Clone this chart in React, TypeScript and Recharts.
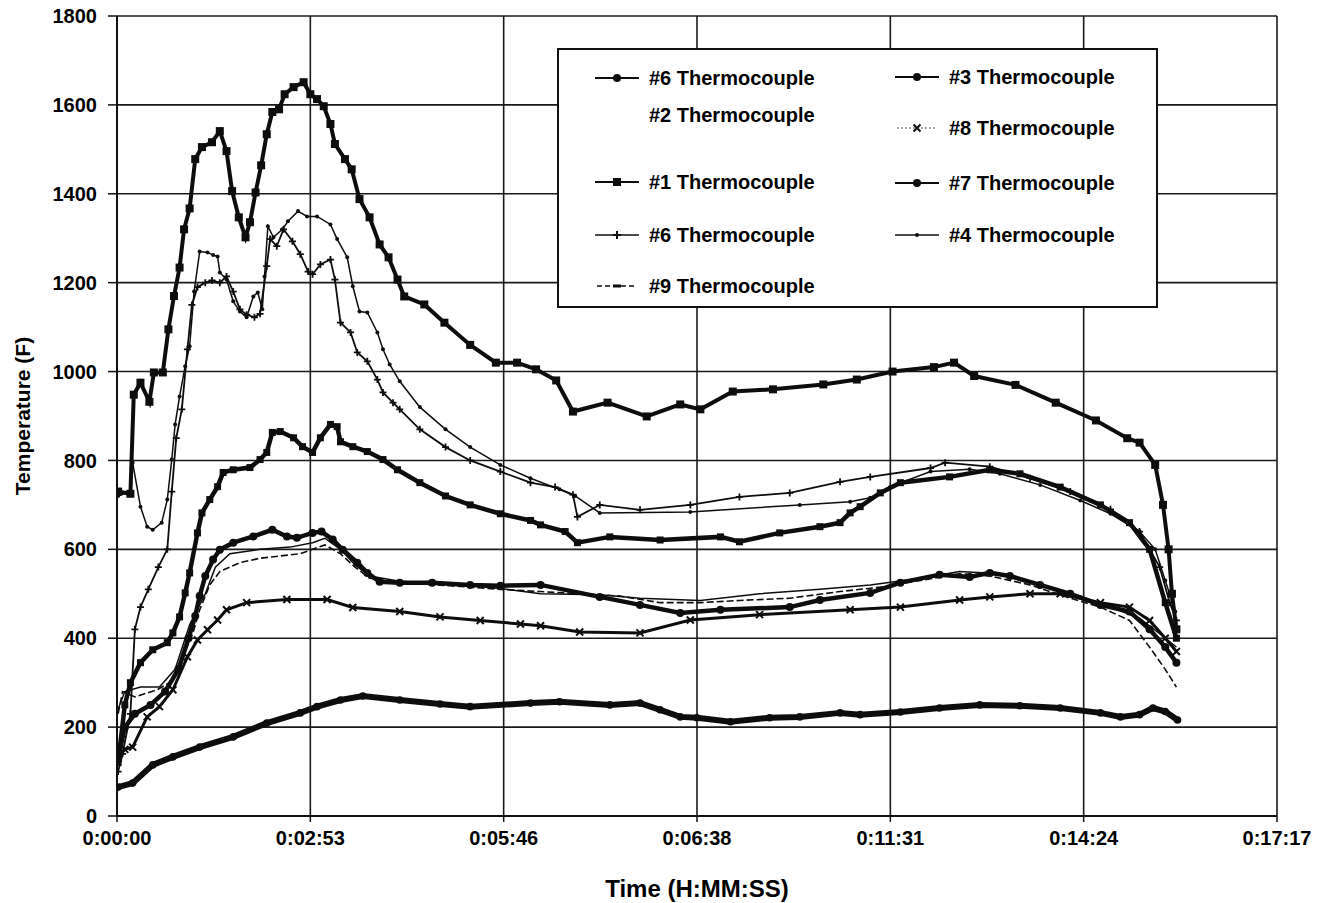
import React from 'react';
import { LineChart, Line, XAxis, YAxis, CartesianGrid, Label } from 'recharts';

const FONT = '"Liberation Sans", Arial, Helvetica, sans-serif';

// x axis: one grid step = 173 s
const xTickSec = [0, 173, 346, 519, 692, 865, 1038];
const xTickLabels = ['0:00:00', '0:02:53', '0:05:46', '0:06:38', '0:11:31', '0:14:24', '0:17:17'];
const yTicks = [0, 200, 400, 600, 800, 1000, 1200, 1400, 1600, 1800];

// #1 - top curve (squares)
const tc1Sec = [1, 12, 15, 21, 29, 33, 41, 46, 51, 56, 60, 65, 70, 76, 85, 92, 98, 103, 109, 115, 119, 124, 129, 134, 139, 145, 150, 158, 167, 173, 179, 185, 191, 195, 204, 210, 217, 226, 235, 243, 251, 257, 275, 293, 316, 339, 358, 375, 393, 408, 439, 474, 504, 522, 551, 587, 632, 662, 694, 731, 749, 767, 804, 840, 876, 904, 915, 929, 936, 941, 944, 948];
const tc1Temp = [730, 725, 948, 975, 932, 998, 998, 1095, 1170, 1234, 1320, 1367, 1478, 1505, 1516, 1541, 1496, 1406, 1347, 1302, 1336, 1403, 1464, 1534, 1584, 1590, 1624, 1640, 1651, 1624, 1613, 1597, 1557, 1512, 1478, 1455, 1388, 1347, 1286, 1257, 1207, 1169, 1151, 1110, 1060, 1020, 1020, 1005, 980, 910, 930, 899, 926, 915, 955, 960, 971, 982, 1000, 1010, 1020, 990, 970, 930, 890, 850, 840, 790, 700, 600, 500, 420];

// #4 - thin, 1270 / 1360 peaks
const tc4Sec = [1, 12, 14, 21, 27, 32, 40, 45, 49, 52, 56, 61, 65, 69, 74, 81, 86, 90, 92, 98, 104, 110, 116, 122, 126, 130, 132, 135, 140, 148, 153, 162, 170, 179, 191, 197, 206, 211, 217, 224, 233, 238, 244, 253, 271, 294, 316, 343, 370, 396, 410, 432, 513, 611, 656, 674, 692, 728, 763, 790, 826, 862, 889, 915, 929, 938, 947];
const tc4Temp = [720, 730, 795, 696, 651, 644, 660, 712, 802, 881, 944, 1012, 1057, 1180, 1270, 1268, 1262, 1259, 1223, 1207, 1158, 1135, 1122, 1169, 1178, 1140, 1214, 1327, 1302, 1320, 1338, 1361, 1349, 1349, 1331, 1298, 1257, 1192, 1135, 1133, 1088, 1050, 1016, 978, 920, 870, 830, 790, 760, 735, 720, 682, 684, 700, 707, 716, 741, 775, 780, 770, 745, 710, 680, 640, 600, 530, 460];

// #6 - plus markers
const tc6pSec = [1, 5, 12, 16, 21, 28, 37, 45, 49, 53, 58, 63, 67, 72, 79, 85, 92, 98, 104, 110, 116, 123, 128, 134, 137, 143, 149, 157, 164, 171, 175, 182, 191, 195, 200, 209, 215, 224, 233, 238, 247, 253, 271, 294, 316, 343, 370, 392, 408, 412, 432, 468, 513, 557, 602, 647, 674, 728, 741, 781, 817, 853, 889, 915, 933, 942, 948];
const tc6pTemp = [100, 140, 230, 420, 470, 510, 560, 600, 730, 850, 915, 1050, 1150, 1190, 1200, 1205, 1200, 1214, 1180, 1140, 1128, 1122, 1130, 1237, 1298, 1282, 1320, 1293, 1264, 1225, 1219, 1241, 1252, 1207, 1110, 1088, 1043, 1023, 982, 953, 930, 915, 870, 830, 800, 775, 750, 740, 723, 673, 700, 689, 700, 718, 727, 752, 763, 783, 795, 786, 760, 730, 690, 640, 560, 480, 440];

// #3 - 870 peak
const tc3Sec = [1, 7, 12, 21, 32, 45, 50, 56, 61, 65, 72, 76, 83, 90, 95, 104, 119, 128, 134, 139, 146, 158, 166, 175, 182, 191, 197, 200, 211, 224, 238, 251, 271, 294, 316, 343, 370, 379, 401, 412, 441, 486, 540, 557, 593, 629, 647, 656, 665, 683, 701, 745, 781, 808, 844, 880, 906, 924, 938, 948];
const tc3Temp = [120, 250, 300, 345, 374, 390, 412, 448, 502, 547, 637, 682, 712, 741, 773, 779, 784, 802, 818, 863, 865, 851, 831, 818, 851, 881, 876, 842, 831, 820, 802, 779, 750, 720, 700, 680, 665, 655, 640, 615, 628, 621, 628, 617, 637, 651, 660, 682, 696, 727, 750, 763, 779, 770, 740, 700, 660, 600, 480, 400];

// #7 - 640 peak
const tc7Sec = [1, 7, 16, 30, 43, 55, 64, 70, 74, 79, 86, 92, 104, 122, 139, 152, 161, 175, 183, 193, 202, 215, 224, 235, 253, 282, 316, 343, 379, 432, 468, 504, 540, 602, 629, 674, 701, 736, 763, 781, 799, 826, 853, 880, 906, 924, 938, 948];
const tc7Temp = [130, 200, 230, 250, 280, 330, 400, 450, 495, 540, 577, 599, 615, 629, 644, 629, 626, 637, 640, 622, 599, 570, 547, 527, 525, 525, 520, 518, 520, 493, 475, 457, 464, 470, 486, 502, 525, 543, 538, 547, 540, 520, 500, 475, 460, 420, 380, 345];

// #8 - crosses, ~490
const tc8Sec = [1, 7, 14, 27, 38, 50, 63, 72, 81, 90, 98, 116, 152, 188, 211, 253, 289, 325, 361, 379, 414, 468, 513, 575, 656, 701, 754, 781, 817, 844, 880, 906, 924, 938, 948];
const tc8Temp = [130, 150, 155, 223, 246, 284, 358, 396, 419, 441, 464, 480, 487, 487, 469, 460, 448, 440, 432, 428, 414, 412, 441, 453, 464, 470, 486, 493, 500, 500, 480, 470, 440, 400, 370];

// #9 - dashed, ~600
const tc9Sec = [1, 5, 16, 36, 47, 59, 68, 74, 83, 92, 110, 128, 146, 164, 175, 186, 200, 213, 226, 253, 298, 343, 379, 414, 450, 486, 522, 557, 602, 647, 683, 719, 754, 781, 817, 853, 880, 906, 924, 938, 948];
const tc9Temp = [230, 280, 268, 284, 300, 358, 412, 464, 520, 550, 570, 580, 585, 590, 600, 610, 590, 560, 535, 525, 518, 510, 505, 500, 495, 480, 480, 485, 490, 505, 515, 530, 545, 540, 520, 490, 470, 440, 380, 330, 290];

// #2 - thin, ~610
const tc2Sec = [1, 7, 21, 38, 52, 65, 79, 88, 101, 128, 155, 175, 186, 200, 213, 226, 253, 298, 343, 379, 432, 468, 522, 575, 629, 674, 719, 754, 790, 826, 862, 889, 915, 933, 948];
const tc2Temp = [240, 280, 290, 290, 330, 430, 500, 560, 590, 600, 605, 615, 625, 600, 565, 540, 528, 522, 512, 500, 498, 490, 485, 500, 510, 520, 535, 550, 545, 520, 495, 470, 445, 410, 380];

// #6 - bottom curve (dots)
const tc6dSec = [1, 14, 32, 50, 74, 104, 134, 164, 179, 200, 220, 253, 289, 316, 370, 396, 441, 468, 486, 504, 519, 549, 584, 611, 647, 665, 701, 736, 772, 808, 844, 880, 898, 915, 927, 938, 949];
const tc6dTemp = [65, 74, 115, 133, 155, 178, 209, 232, 246, 261, 270, 261, 252, 246, 254, 257, 250, 254, 239, 223, 221, 212, 221, 223, 232, 228, 234, 243, 250, 248, 243, 232, 223, 228, 243, 235, 216];

const legendLeft = [
  { label: '#6 Thermocouple', kind: 'dot' },
  { label: '#2 Thermocouple', kind: 'none' },
  { label: '#1 Thermocouple', kind: 'square' },
  { label: '#6 Thermocouple', kind: 'plus' },
  { label: '#9 Thermocouple', kind: 'dash' },
];
const legendRight = [
  { label: '#3 Thermocouple', kind: 'dot' },
  { label: '#8 Thermocouple', kind: 'cross' },
  { label: '#7 Thermocouple', kind: 'dot' },
  { label: '#4 Thermocouple', kind: 'smalldot' },
];

const toRows = (sec: number[], temp: number[]) => sec.map((s, i) => ({ sec: s, temp: temp[i] }));

const INK = '#0d0d0d';

const squareDot = (size: number) => (props: any) => {
  const { cx, cy, index } = props;
  if (cx == null || cy == null) return <g key={index} />;
  return <rect key={index} x={cx - size / 2} y={cy - size / 2} width={size} height={size} fill={INK} />;
};
const roundDot = (r: number) => (props: any) => {
  const { cx, cy, index } = props;
  if (cx == null || cy == null) return <g key={index} />;
  return <circle key={index} cx={cx} cy={cy} r={r} fill={INK} />;
};
const plusDot = (props: any) => {
  const { cx, cy, index } = props;
  if (cx == null || cy == null) return <g key={index} />;
  return <path key={index} d={`M${cx - 3.5},${cy}h7M${cx},${cy - 3.5}v7`} stroke={INK} strokeWidth={1.8} />;
};
const crossDot = (props: any) => {
  const { cx, cy, index } = props;
  if (cx == null || cy == null) return <g key={index} />;
  return <path key={index} d={`M${cx - 3.5},${cy - 3.5}l7,7M${cx + 3.5},${cy - 3.5}l-7,7`} stroke={INK} strokeWidth={2} />;
};

const XTitle = (props: any) => {
  const vb = props.viewBox;
  return (
    <text x={vb.x + vb.width / 2} y={vb.y + 72} textAnchor="middle" dominantBaseline="central"
      style={{ fontSize: 24, fontWeight: 700, fontFamily: FONT, fill: '#000' }}>
      Time (H:MM:SS)
    </text>
  );
};

const YTitle = (props: any) => {
  const vb = props.viewBox;
  const cx = vb.x + 22;
  const cy = vb.y + vb.height / 2;
  return (
    <text x={cx} y={cy} transform={`rotate(-90 ${cx} ${cy})`} textAnchor="middle" dominantBaseline="central"
      style={{ fontSize: 21, fontWeight: 700, fontFamily: FONT, fill: '#000' }}>
      Temperature (F)
    </text>
  );
};

const Swatch = ({ kind }: { kind: string }) => {
  if (kind === 'none') return <svg width={44} height={16} />;
  const m = 22;
  return (
    <svg width={44} height={16} style={{ display: 'block' }}>
      {kind === 'dash' && <line x1={2} x2={42} y1={8} y2={8} stroke={INK} strokeWidth={1.5} strokeDasharray="5 3" />}
      {kind === 'cross' && <line x1={2} x2={42} y1={8} y2={8} stroke="#555" strokeWidth={1} strokeDasharray="2 2" />}
      {kind !== 'dash' && kind !== 'cross' && (
        <line x1={0} x2={44} y1={8} y2={8} stroke={INK} strokeWidth={kind === 'smalldot' || kind === 'plus' ? 1.5 : 2} />
      )}
      {kind === 'dot' && <circle cx={m} cy={8} r={4} fill={INK} />}
      {kind === 'square' && <rect x={m - 4} y={4} width={8} height={8} fill={INK} />}
      {kind === 'plus' && <path d={`M${m - 4},8h8M${m},4v8`} stroke={INK} strokeWidth={2} />}
      {kind === 'smalldot' && <circle cx={m} cy={8} r={2} fill={INK} />}
      {kind === 'dash' && <rect x={m - 4} y={6.5} width={8} height={3} fill={INK} />}
      {kind === 'cross' && <path d={`M${m - 3.5},4.5l7,7M${m + 3.5},4.5l-7,7`} stroke={INK} strokeWidth={2} />}
    </svg>
  );
};

const LegendBox: React.FC = () => {
  const leftRows = [28, 65, 132, 185, 236];
  const rightRows = [27, 78, 133, 185];
  const item = (e: { label: string; kind: string }, x: number, y: number, key: string) => (
    <div key={key} style={{ position: 'absolute', left: x, top: y - 12, height: 24, display: 'flex', alignItems: 'center' }}>
      <Swatch kind={e.kind} />
      <span style={{ marginLeft: 10, fontSize: 20, fontWeight: 700, color: '#000', whiteSpace: 'nowrap' }}>{e.label}</span>
    </div>
  );
  return (
    <div style={{
      position: 'absolute', left: 557, top: 48, width: 601, height: 260, boxSizing: 'border-box',
      border: '2px solid #111', background: '#fff', fontFamily: FONT,
    }}>
      {legendLeft.map((e, i) => item(e, 36, leftRows[i], 'l' + i))}
      {legendRight.map((e, i) => item(e, 336, rightRows[i], 'r' + i))}
    </div>
  );
};

const App: React.FC = () => {
  const tick = { fill: '#000', fontSize: 20, fontWeight: 700, fontFamily: FONT };
  return (
    <div style={{ position: 'absolute', left: 0, top: 0, width: 1318, height: 903, background: '#fff', overflow: 'hidden' }}>
      <LineChart width={1318} height={903} margin={{ top: 16, right: 41, bottom: 0, left: 0 }}>
        <CartesianGrid stroke="#1a1a1a" strokeWidth={1.6} />
        <XAxis
          type="number"
          dataKey="sec"
          domain={[0, 1038]}
          ticks={xTickSec}
          interval={0}
          allowDataOverflow
          tickFormatter={(v: number) => xTickLabels[xTickSec.indexOf(v)] ?? ''}
          height={87}
          tickSize={6}
          tickMargin={9}
          axisLine={{ stroke: '#111', strokeWidth: 2 }}
          tickLine={{ stroke: '#111', strokeWidth: 1.5 }}
          tick={tick}
        >
          <Label content={XTitle} />
        </XAxis>
        <YAxis
          type="number"
          domain={[0, 1800]}
          ticks={yTicks}
          interval={0}
          allowDataOverflow
          width={117}
          tickSize={9}
          tickMargin={11}
          axisLine={{ stroke: '#111', strokeWidth: 2 }}
          tickLine={{ stroke: '#111', strokeWidth: 1.5 }}
          tick={tick}
        >
          <Label content={YTitle} />
        </YAxis>

        <Line data={toRows(tc6dSec, tc6dTemp)} dataKey="temp" name="#6 Thermocouple" type="linear"
          stroke={INK} strokeWidth={6} dot={roundDot(3.8)} isAnimationActive={false} />
        <Line data={toRows(tc2Sec, tc2Temp)} dataKey="temp" name="#2 Thermocouple" type="linear"
          stroke={INK} strokeWidth={1.5} dot={false} isAnimationActive={false} />
        <Line data={toRows(tc9Sec, tc9Temp)} dataKey="temp" name="#9 Thermocouple" type="linear"
          stroke={INK} strokeWidth={1.6} strokeDasharray="7 3" dot={false} isAnimationActive={false} />
        <Line data={toRows(tc8Sec, tc8Temp)} dataKey="temp" name="#8 Thermocouple" type="linear"
          stroke={INK} strokeWidth={3} dot={crossDot} isAnimationActive={false} />
        <Line data={toRows(tc7Sec, tc7Temp)} dataKey="temp" name="#7 Thermocouple" type="linear"
          stroke={INK} strokeWidth={4.5} dot={roundDot(4)} isAnimationActive={false} />
        <Line data={toRows(tc3Sec, tc3Temp)} dataKey="temp" name="#3 Thermocouple" type="linear"
          stroke={INK} strokeWidth={4.5} dot={squareDot(7)} isAnimationActive={false} />
        <Line data={toRows(tc6pSec, tc6pTemp)} dataKey="temp" name="#6 Thermocouple (+)" type="linear"
          stroke={INK} strokeWidth={1.8} dot={plusDot} isAnimationActive={false} />
        <Line data={toRows(tc4Sec, tc4Temp)} dataKey="temp" name="#4 Thermocouple" type="linear"
          stroke={INK} strokeWidth={1.5} dot={roundDot(2)} isAnimationActive={false} />
        <Line data={toRows(tc1Sec, tc1Temp)} dataKey="temp" name="#1 Thermocouple" type="linear"
          stroke={INK} strokeWidth={4} dot={squareDot(8)} isAnimationActive={false} />
      </LineChart>
      <LegendBox />
    </div>
  );
};

export default App;
